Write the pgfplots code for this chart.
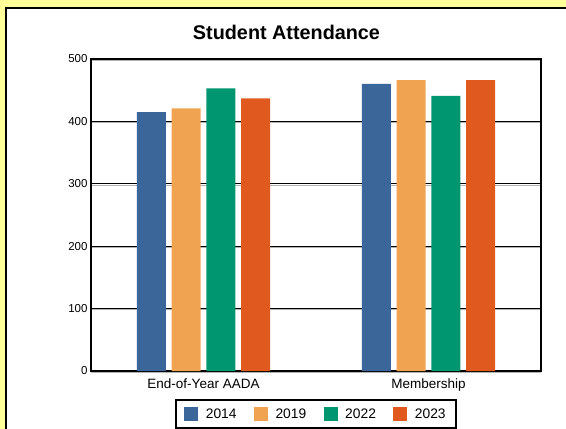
\documentclass[border=0pt]{standalone}
\usepackage{pgfplots}
\pgfplotsset{compat=1.18}
\usepackage{fontspec}
\setmainfont{Liberation Sans}
\definecolor{bgyellow}{RGB}{255,255,153}
\definecolor{c2014}{RGB}{58,102,153}
\definecolor{c2019}{RGB}{240,164,82}
\definecolor{c2022}{RGB}{0,150,112}
\definecolor{c2023}{RGB}{224,90,32}
\begin{document}
\begin{tikzpicture}[x=1pt,y=1pt]
\useasboundingbox (0,0) rectangle (566,429);
\clip (0,0) rectangle (566,429);
\fill[bgyellow] (0,0) rectangle (566,429);
\filldraw[fill=white,draw=black,line width=2pt] (6,-20) rectangle (580,421);
\node[anchor=base,font=\fontsize{19.8}{22}\selectfont\bfseries] at (286.5,389.5) {Student Attendance};
\begin{axis}[
  at={(91pt,58pt)}, anchor=south west,
  scale only axis, width=450pt, height=312pt,
  ybar=5.7pt, bar width=29pt,
  xmin=-0.5, xmax=1.5, ymin=0, ymax=500,
  xtick={0,1}, xticklabels={End-of-Year AADA,Membership},
  ytick={0,100,200,300,400,500},
  tick style={draw=none},
  axis line style={line width=2pt},
  ymajorgrids,
  major grid style={line width=1.2pt, black, preaction={draw=black!30, line width=1pt, transform canvas={yshift=-1.2pt}}},
  /pgf/number format/assume math mode=true,
  yticklabel style={font=\fontsize{11.5}{13}\selectfont},
  xticklabel style={font=\fontsize{13.5}{15}\selectfont},
  legend style={at={(0.5,-0.0897)}, anchor=north, legend columns=4,
    draw=black, line width=2pt, font=\fontsize{13.8}{15}\selectfont,
    inner xsep=8pt, inner ysep=6.5pt,
    /tikz/every odd column/.append style={column sep=5.5pt},
    /tikz/every even column/.append style={column sep=15.5pt}},
  legend image code/.code={\fill[#1,draw=none] (0pt,-7pt) rectangle (14pt,7pt);},
]
\addplot[fill=c2014,draw=none] coordinates {(0,415) (1,460)};
\addplot[fill=c2019,draw=none] coordinates {(0,421) (1,466)};
\addplot[fill=c2022,draw=none] coordinates {(0,453) (1,441)};
\addplot[fill=c2023,draw=none] coordinates {(0,437) (1,466)};
\legend{2014,2019,2022,2023}
\end{axis}
\end{tikzpicture}
\end{document}
